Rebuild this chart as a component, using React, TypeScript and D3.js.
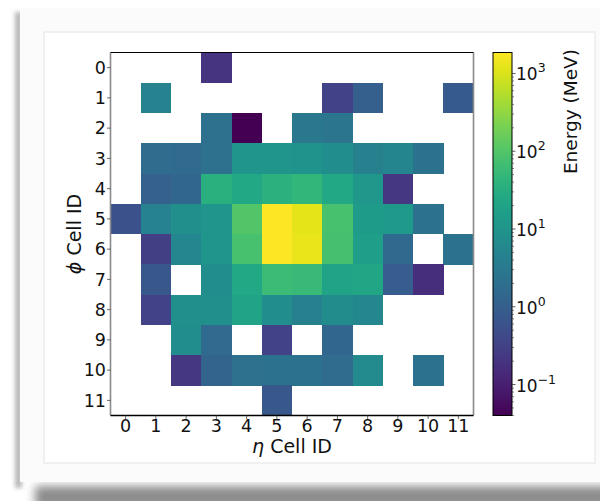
import React from "react";
import * as d3 from "d3";

// eta Cell ID (columns) and phi Cell ID (rows)
const etaTicks = ["0", "1", "2", "3", "4", "5", "6", "7", "8", "9", "10", "11"];
const phiTicks = ["0", "1", "2", "3", "4", "5", "6", "7", "8", "9", "10", "11"];

// Energy (MeV) per cell, one array per phi row; null = empty cell
const row0 = [null, null, null, 0.2, null, null, null, null, null, null, null, null];
const row1 = [null, 4.5, null, null, null, null, null, 0.34, 1.0, null, null, 0.8];
const row2 = [null, null, null, 2.1, 0.04, null, 2.9, 2.6, null, null, null, null];
const row3 = [null, 1.7, 1.6, 2.1, 10.7, 11, 10, 7.8, 4.1, 5.3, 2.2, null];
const row4 = [null, 1.1, 1.4, 37, 25, 39, 48, 25, 12, 0.22, null, null];
const row5 = [0.58, 4.5, 8.4, 10.7, 100, 1860, 1200, 80, 14.5, 13, 2.2, null];
const row6 = [null, 0.3, 5.6, 10.7, 80, 1800, 1300, 78, 16, 1.5, null, 2.2];
const row7 = [null, 0.73, null, 7.8, 25, 60, 57, 20, 22, 0.9, 0.16, null];
const row8 = [null, 0.34, 8.6, 8.6, 20, 7.5, 4.2, 7.0, 5.5, null, null, null];
const row9 = [null, null, 7.8, 1.6, null, 0.34, null, 1.4, null, null, null, null];
const row10 = [null, null, 0.22, 1.2, 2.1, 2.2, 2.2, 1.7, 6.6, null, 2.2, null];
const row11 = [null, null, null, null, null, 0.73, null, null, null, null, null, null];
const energyGrid = [row0, row1, row2, row3, row4, row5, row6, row7, row8, row9, row10, row11];

// colour-bar range and decade ticks (exponents)
const energyMin = 0.04;
const energyMax = 1860;
const cbarExponents = [-1, 0, 1, 2, 3];

const FONT = "'DejaVu Sans', sans-serif";

export default function App() {
  const left = 110.5;
  const top = 52.5;
  const size = 363;
  const x = d3.scaleBand<string>().domain(etaTicks).range([left, left + size]);
  const y = d3.scaleBand<string>().domain(phiTicks).range([top, top + size]);
  const color = d3.scaleSequentialLog(d3.interpolateViridis).domain([energyMin, energyMax]);

  const cbX = 493;
  const cbW = 19;
  const cbY = d3.scaleLog().domain([energyMin, energyMax]).range([top + size, top]);

  const minorTicks: number[] = [];
  for (let e = -2; e <= 3; e++) {
    for (let m = 2; m <= 9; m++) {
      const v = m * Math.pow(10, e);
      if (v >= energyMin && v <= energyMax) minorTicks.push(v);
    }
  }

  const stops = d3.range(0, 1.0001, 0.05);

  return (
    <svg
      width={600}
      height={501}
      style={{ position: "absolute", left: 0, top: 0, display: "block" }}
      fontFamily={FONT}
    >
      <defs>
        <filter id="blurB" x="-20%" y="-100%" width="140%" height="300%">
          <feGaussianBlur stdDeviation="5" />
        </filter>
        <filter id="blurL" x="-200%" y="-10%" width="500%" height="120%">
          <feGaussianBlur stdDeviation="2" />
        </filter>
        <linearGradient id="cbar" x1="0" y1="1" x2="0" y2="0">
          {stops.map((s) => (
            <stop key={s} offset={s} stopColor={d3.interpolateViridis(s)} />
          ))}
        </linearGradient>
      </defs>
      <rect x={0} y={0} width={600} height={501} fill="#ffffff" />
      {/* shadows of the card */}
      <rect x={35} y={486} width={620} height={22} fill="#8c8c8c" filter="url(#blurB)" />
      <rect x={15} y={12} width={7} height={476} fill="#b8b8b8" filter="url(#blurL)" />
      {/* card */}
      <rect x={20} y={8} width={600} height={474} fill="#fbfbfb" />
      <rect x={44} y={32} width={551} height={431} fill="#ffffff" stroke="#ececec" strokeWidth={1.5} />

      {/* heatmap cells */}
      <g shapeRendering="crispEdges">
        {energyGrid.map((row, r) =>
          row.map((v, c) =>
            v == null ? null : (
              <rect
                key={`${r}-${c}`}
                x={x(etaTicks[c])}
                y={y(phiTicks[r])}
                width={x.bandwidth() + 0.3}
                height={y.bandwidth() + 0.3}
                fill={color(v)}
              />
            )
          )
        )}
      </g>

      {/* spines */}
      <line x1={left} x2={left} y1={top} y2={top + size} stroke="#8a8a8a" strokeWidth={1.6} />
      <line x1={left + size} x2={left + size} y1={top} y2={top + size} stroke="#8a8a8a" strokeWidth={1.6} />
      <line x1={left} x2={left + size} y1={top} y2={top} stroke="#000" strokeWidth={1.2} />
      <line x1={left} x2={left + size} y1={top + size} y2={top + size} stroke="#000" strokeWidth={1.4} />

      {/* x ticks */}
      {etaTicks.map((t) => {
        const cx = (x(t) as number) + x.bandwidth() / 2;
        return (
          <g key={"x" + t}>
            <line x1={cx} x2={cx} y1={top + size} y2={top + size + 3.5} stroke="#444" strokeWidth={0.8} />
            <text x={cx} y={432} textAnchor="middle" fontSize={17.5} fill="#111">
              {t}
            </text>
          </g>
        );
      })}
      {/* y ticks */}
      {phiTicks.map((t) => {
        const cy = (y(t) as number) + y.bandwidth() / 2;
        return (
          <g key={"y" + t}>
            <line x1={left - 3.5} x2={left} y1={cy} y2={cy} stroke="#444" strokeWidth={0.8} />
            <text x={106} y={cy + 6.3} textAnchor="end" fontSize={17.5} fill="#111">
              {t}
            </text>
          </g>
        );
      })}

      {/* axis labels */}
      <text x={left + size / 2} y={453} textAnchor="middle" fontSize={19} fill="#111">
        <tspan fontStyle="italic">η</tspan> Cell ID
      </text>
      <text
        transform={`translate(81,${top + size / 2}) rotate(-90)`}
        textAnchor="middle"
        fontSize={19}
        fill="#111"
      >
        <tspan fontStyle="italic">ϕ</tspan> Cell ID
      </text>

      {/* colour bar */}
      <rect x={cbX} y={top} width={cbW} height={size} fill="url(#cbar)" stroke="#000" strokeWidth={1} />
      {minorTicks.map((v) => (
        <line key={"m" + v} x1={cbX + cbW} x2={cbX + cbW + 2} y1={cbY(v)} y2={cbY(v)} stroke="#333" strokeWidth={0.6} />
      ))}
      {cbarExponents.map((e) => {
        const cy = cbY(Math.pow(10, e));
        return (
          <g key={"c" + e}>
            <line x1={cbX + cbW} x2={cbX + cbW + 3.5} y1={cy} y2={cy} stroke="#333" strokeWidth={0.8} />
            <text x={cbX + cbW + 4} y={cy + 7} fontSize={17} fill="#111">
              10
              <tspan dy={-8} fontSize={12.5}>
                {e < 0 ? "−" + Math.abs(e) : String(e)}
              </tspan>
            </text>
          </g>
        );
      })}
      <text transform={`translate(577,49) rotate(-90)`} textAnchor="end" fontSize={18.5} fill="#111">
        Energy (MeV)
      </text>
    </svg>
  );
}
